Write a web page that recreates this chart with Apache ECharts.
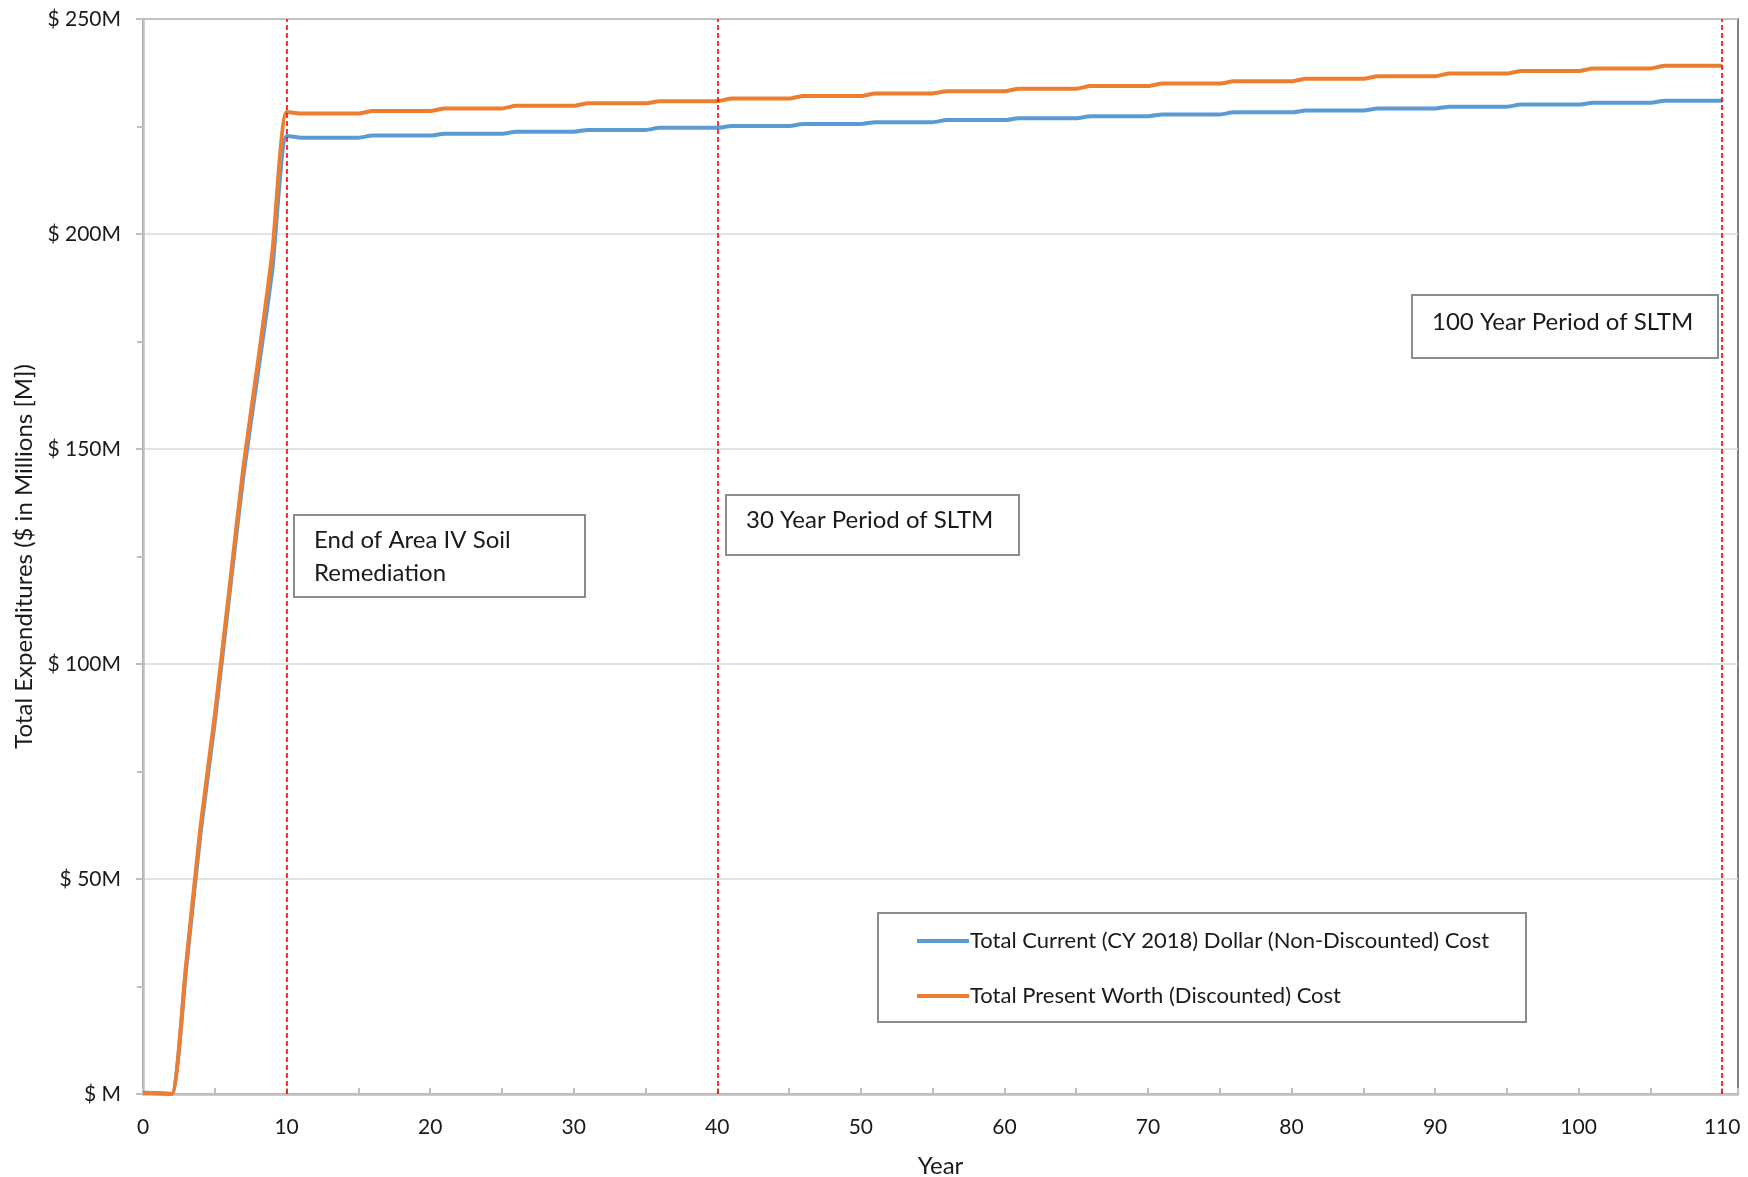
<!DOCTYPE html>
<html>
<head>
<meta charset="utf-8">
<title>Total Expenditures</title>
<script src="https://cdn.jsdelivr.net/npm/echarts@6/dist/echarts.min.js"></script>
<style>
  html, body { margin: 0; padding: 0; background: #ffffff; }
  #chart { width: 1748px; height: 1177px; }
</style>
</head>
<body>
<div id="chart"></div>
<script>
// Cumulative expenditures ($M) per year, year 0 .. 110
const currentCost = [
  0.3, 0.2, 0.0, 29.0, 60.5, 86.5, 115.5, 144.0, 167.5, 191.5, 222.8,
  222.4, 222.4, 222.4, 222.4, 222.4,
  222.9, 222.9, 222.9, 222.9, 222.9,
  223.3, 223.3, 223.3, 223.3, 223.3,
  223.8, 223.8, 223.8, 223.8, 223.8,
  224.2, 224.2, 224.2, 224.2, 224.2,
  224.7, 224.7, 224.7, 224.7, 224.7,
  225.1, 225.1, 225.1, 225.1, 225.1,
  225.6, 225.6, 225.6, 225.6, 225.6,
  226.0, 226.0, 226.0, 226.0, 226.0,
  226.5, 226.5, 226.5, 226.5, 226.5,
  226.9, 226.9, 226.9, 226.9, 226.9,
  227.4, 227.4, 227.4, 227.4, 227.4,
  227.8, 227.8, 227.8, 227.8, 227.8,
  228.3, 228.3, 228.3, 228.3, 228.3,
  228.7, 228.7, 228.7, 228.7, 228.7,
  229.2, 229.2, 229.2, 229.2, 229.2,
  229.6, 229.6, 229.6, 229.6, 229.6,
  230.1, 230.1, 230.1, 230.1, 230.1,
  230.5, 230.5, 230.5, 230.5, 230.5,
  231.0, 231.0, 231.0, 231.0, 231.0
];

const presentWorth = [
  0.3, 0.2, 0.0, 30.0, 62.0, 88.0, 117.0, 146.0, 170.0, 195.5, 228.4,
  228.0, 228.0, 228.0, 228.0, 228.0,
  228.6, 228.6, 228.6, 228.6, 228.6,
  229.2, 229.2, 229.2, 229.2, 229.2,
  229.8, 229.8, 229.8, 229.8, 229.8,
  230.4, 230.4, 230.4, 230.4, 230.4,
  230.9, 230.9, 230.9, 230.9, 230.9,
  231.5, 231.5, 231.5, 231.5, 231.5,
  232.1, 232.1, 232.1, 232.1, 232.1,
  232.7, 232.7, 232.7, 232.7, 232.7,
  233.2, 233.2, 233.2, 233.2, 233.2,
  233.8, 233.8, 233.8, 233.8, 233.8,
  234.4, 234.4, 234.4, 234.4, 234.4,
  235.0, 235.0, 235.0, 235.0, 235.0,
  235.5, 235.5, 235.5, 235.5, 235.5,
  236.1, 236.1, 236.1, 236.1, 236.1,
  236.7, 236.7, 236.7, 236.7, 236.7,
  237.3, 237.3, 237.3, 237.3, 237.3,
  237.9, 237.9, 237.9, 237.9, 237.9,
  238.5, 238.5, 238.5, 238.5, 238.5,
  239.1, 239.1, 239.1, 239.1, 239.1
];

const seriesNames = [
  'Total Current (CY 2018) Dollar (Non-Discounted) Cost',
  'Total Present Worth (Discounted) Cost'
];

// Milestone years marked with vertical dashed lines
const milestoneYears = [10, 40, 110];

const yTicks = [0, 50, 100, 150, 200, 250];

const FONT = 'Lato';
const TEXT = '#1a1a1a';

function pairs(values) {
  return values.map((v, i) => [i, v]);
}

const chart = echarts.init(document.getElementById('chart'));

function noteBox(x, y, w, h, text, tx, ty, lineHeight) {
  return {
    type: 'group',
    left: x, top: y,
    children: [
      {
        type: 'rect',
        shape: { x: 0, y: 0, width: w, height: h },
        style: { fill: '#ffffff', stroke: '#8c8c8c', lineWidth: 2 }
      },
      {
        type: 'text',
        x: tx, y: ty,
        style: {
          text: text,
          fill: TEXT,
          font: '24px ' + FONT,
          lineHeight: lineHeight || 32,
          textVerticalAlign: 'top'
        }
      }
    ]
  };
}

chart.setOption({
  animation: false,
  textStyle: { fontFamily: FONT },
  grid: {
    left: 143, top: 19, right: 10, bottom: 83,
    containLabel: false,
    outerBoundsMode: 'none',
    show: true,
    borderColor: '#808080',
    borderWidth: 2,
    backgroundColor: 'transparent'
  },
  xAxis: {
    type: 'value',
    min: 0, max: 111.1, interval: 10,
    name: 'Year',
    nameLocation: 'middle',
    nameGap: 60,
    nameTextStyle: { fontSize: 24, color: TEXT, fontFamily: FONT },
    axisLine: { show: true, onZero: false, lineStyle: { color: '#bfbfbf', width: 2.5 } },
    axisTick: { show: true, inside: true, length: 6, lineStyle: { color: '#bfbfbf', width: 2 } },
    minorTick: { show: true, splitNumber: 2, length: 6, lineStyle: { color: '#bfbfbf', width: 2 } },
    axisLabel: { fontSize: 21, color: TEXT, margin: 23, showMaxLabel: false, fontFamily: FONT },
    splitLine: { show: false }
  },
  yAxis: {
    type: 'value',
    min: 0, max: 250, interval: 50,
    name: 'Total Expenditures ($ in Millions [M])',
    nameLocation: 'middle',
    nameGap: 107,
    nameTextStyle: { fontSize: 24, color: TEXT, fontFamily: FONT },
    axisLine: { show: true, lineStyle: { color: '#bfbfbf', width: 2.5 } },
    axisTick: { show: true, length: 7, lineStyle: { color: '#bfbfbf', width: 2 } },
    minorTick: { show: true, splitNumber: 2, length: 6, lineStyle: { color: '#bfbfbf', width: 2 } },
    axisLabel: {
      fontSize: 21, color: TEXT, margin: 22, fontFamily: FONT,
      formatter: v => (yTicks.indexOf(v) < 0 ? '' : (v === 0 ? '$ M' : '$ ' + v + 'M'))
    },
    splitLine: { show: true, lineStyle: { color: '#d9d9d9', width: 1.5 } }
  },
  legend: {
    show: true,
    orient: 'vertical',
    left: 912, top: 925,
    itemWidth: 52, itemHeight: 4,
    itemGap: 33,
    icon: 'rect',
    textStyle: { fontSize: 22, color: TEXT, fontFamily: FONT, padding: [0, 0, 0, -4] },
    data: seriesNames
  },
  series: [
    {
      name: seriesNames[0],
      type: 'line',
      data: pairs(currentCost),
      smooth: 0.2,
      showSymbol: false,
      lineStyle: { color: '#5b9bd5', width: 4 },
      itemStyle: { color: '#5b9bd5' },
      z: 3
    },
    {
      name: seriesNames[1],
      type: 'line',
      data: pairs(presentWorth),
      smooth: 0.2,
      showSymbol: false,
      lineStyle: { color: '#ed7d31', width: 4 },
      itemStyle: { color: '#ed7d31' },
      z: 4,
      markLine: {
        silent: true,
        symbol: ['none', 'none'],
        label: { show: false },
        lineStyle: { color: '#ff0000', type: [5, 3], width: 1.6 },
        data: milestoneYears.map(y => ({ xAxis: y }))
      }
    }
  ],
  graphic: [
    // legend frame (drawn under the legend items)
    {
      type: 'rect',
      left: 877, top: 912, z: -1,
      shape: { width: 648, height: 109 },
      style: { fill: '#ffffff', stroke: '#8c8c8c', lineWidth: 2 }
    },
    noteBox(293, 514, 291, 82, 'End of Area IV Soil\nRemediation', 20, 9, 33),
    noteBox(725, 494, 293, 60, '30 Year Period of SLTM', 20, 9),
    noteBox(1411, 294, 306, 63, '100 Year Period of SLTM', 20, 11)
  ]
});
</script>
</body>
</html>
